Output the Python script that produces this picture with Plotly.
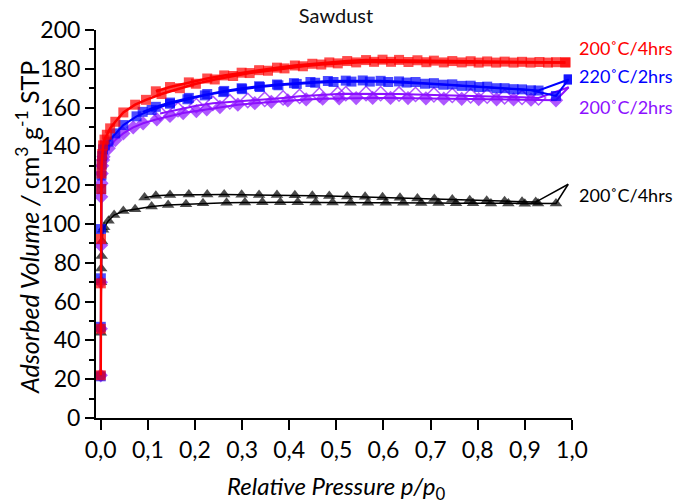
import plotly.graph_objects as go

# ---------------- data ----------------
# Black series (200 C / 4 hrs, triangles)
black_ads_p = [0.0002, 0.0005, 0.001, 0.002, 0.003, 0.005, 0.0074, 0.0165, 0.0285, 0.048, 0.073, 0.108, 0.143,
               0.181, 0.217, 0.267, 0.306, 0.343, 0.381, 0.418, 0.456, 0.492, 0.530, 0.567, 0.605, 0.642, 0.680,
               0.717, 0.754, 0.790, 0.828, 0.865, 0.900, 0.928, 0.966, 0.992]
black_ads_v = [44, 70, 77, 83.5, 91, 97, 98.3, 101.7, 104.6, 106.7, 107.6, 109.0, 109.8,
               110.2, 110.7, 111.0, 111.1, 111.2, 111.2, 111.2, 111.1, 111.1, 111.0, 111.0, 110.9, 110.9, 110.8,
               110.8, 110.7, 110.7, 110.6, 110.6, 110.5, 110.6, 110.6, 120.5]
black_des_p = [0.992, 0.923, 0.894, 0.857, 0.819, 0.783, 0.746, 0.708, 0.672, 0.635, 0.598, 0.561, 0.523,
               0.485, 0.449, 0.412, 0.374, 0.336, 0.299, 0.262, 0.226, 0.187, 0.147, 0.117, 0.093]
black_des_v = [120.5, 111.3, 111.5, 111.7, 112.0, 112.3, 112.6, 112.9, 113.2, 113.5, 113.8, 114.0, 114.2,
               114.4, 114.6, 114.8, 114.9, 115.0, 115.1, 115.2, 115.2, 115.2, 115.0, 114.6, 113.6]

# Purple series (200 C / 2 hrs, diamonds)
purple_ads_p = [0.00005, 0.0001, 0.0003, 0.0006, 0.001, 0.0015, 0.002, 0.003, 0.005, 0.006, 0.017, 0.031, 0.048,
                0.069, 0.090, 0.119, 0.147, 0.175, 0.203, 0.225, 0.253, 0.291, 0.327, 0.362, 0.397, 0.436, 0.471,
                0.506, 0.542, 0.577, 0.615, 0.652, 0.690, 0.728, 0.766, 0.802, 0.840, 0.876, 0.913, 0.966, 0.993]
purple_ads_v = [22, 46, 70, 89, 114, 121, 126, 130, 133, 134.7, 139.0, 143.3, 146.7,
                149.8, 151.9, 154.0, 155.7, 157.2, 158.2, 159.1, 160.3, 161.5, 162.3, 163.0, 163.7, 164.2, 164.6,
                164.8, 164.9, 165.0, 165.0, 164.9, 164.8, 164.6, 164.5, 164.4, 164.3, 164.2, 164.1, 163.8, 170.5]
purple_des_p = [0.993, 0.929, 0.894, 0.857, 0.820, 0.785, 0.746, 0.707, 0.668, 0.633, 0.594, 0.563, 0.520,
                0.503, 0.464, 0.422, 0.387, 0.348, 0.312, 0.274, 0.238, 0.203, 0.164, 0.126]
purple_des_v = [170.5, 165.0, 165.3, 165.6, 165.9, 166.1, 166.3, 166.6, 166.8, 167.0, 167.2, 167.3, 167.2,
                167.0, 166.5, 165.8, 165.0, 164.3, 163.7, 163.0, 162.2, 161.0, 159.0, 157.0]

# Blue series (220 C / 2 hrs, squares)
blue_ads_p = [0.00005, 0.0001, 0.0003, 0.0006, 0.001, 0.0015, 0.002, 0.003, 0.005, 0.009, 0.0165, 0.031, 0.048,
              0.076, 0.108, 0.147, 0.184, 0.221, 0.260, 0.300, 0.338, 0.377, 0.416, 0.455, 0.494, 0.532, 0.571,
              0.610, 0.649, 0.688, 0.727, 0.766, 0.803, 0.840, 0.876, 0.913, 0.966, 0.993]
blue_ads_v = [21.5, 47, 72, 97.4, 118, 125, 130.5, 135, 138.5, 140.5, 142.5, 146.7, 151.0,
              155.5, 158.8, 162.0, 164.3, 166.3, 168.0, 169.5, 170.6, 171.5, 172.2, 172.8, 173.2, 173.4, 173.4,
              173.2, 172.9, 172.3, 171.8, 171.2, 170.6, 170.0, 169.5, 168.9, 166.0, 174.5]
blue_des_p = [0.993, 0.929, 0.894, 0.857, 0.820, 0.785, 0.746, 0.707, 0.668, 0.633, 0.594, 0.556, 0.520,
              0.482, 0.445, 0.410, 0.374, 0.336, 0.299, 0.262, 0.226, 0.187, 0.147, 0.117, 0.089]
blue_des_v = [174.5, 168.8, 169.4, 170.0, 170.8, 171.3, 172.0, 172.6, 173.2, 173.5, 173.8, 174.0, 173.9,
              173.7, 173.2, 172.6, 171.9, 171.0, 170.0, 168.6, 167.0, 165.0, 162.6, 160.4, 157.8]

# Red series (200 C / 4 hrs, squares)
red_ads_p = [0.00005, 0.0001, 0.0003, 0.0006, 0.001, 0.0015, 0.002, 0.003, 0.005, 0.008, 0.013, 0.020, 0.031,
             0.048, 0.073, 0.096, 0.129, 0.168, 0.202, 0.242, 0.281, 0.316, 0.355, 0.390, 0.429, 0.468, 0.503,
             0.542, 0.580, 0.616, 0.653, 0.691, 0.728, 0.766, 0.802, 0.839, 0.876, 0.912, 0.949, 0.986]
red_ads_v = [22, 46, 69.4, 92.3, 118, 126, 131, 136, 140.5, 143.5, 146.0, 149.3, 152.7,
             157.5, 161.5, 164.0, 167.0, 170.0, 172.3, 174.5, 176.3, 177.8, 179.0, 180.2, 181.3, 182.2, 182.8,
             183.3, 183.6, 183.6, 183.5, 183.4, 183.3, 183.3, 183.2, 183.2, 183.2, 183.2, 183.2, 183.3]
red_des_p = [0.986, 0.966, 0.931, 0.894, 0.857, 0.820, 0.785, 0.746, 0.707, 0.672, 0.633, 0.598, 0.563,
             0.523, 0.485, 0.449, 0.412, 0.374, 0.336, 0.299, 0.262, 0.226, 0.187, 0.147, 0.117]
red_des_v = [183.3, 183.4, 183.5, 183.6, 183.7, 183.8, 183.9, 184.0, 184.2, 184.4, 184.6, 184.7, 184.5,
             184.0, 183.3, 182.6, 181.7, 180.6, 179.3, 178.0, 176.6, 175.0, 173.0, 170.6, 168.4]

labels = ["200˚C/4hrs", "220˚C/2hrs", "200˚C/2hrs", "200˚C/4hrs"]

x_ticks = [0.0, 0.1, 0.2, 0.3, 0.4, 0.5, 0.6, 0.7, 0.8, 0.9, 1.0]
y_ticks = [0, 20, 40, 60, 80, 100, 120, 140, 160, 180, 200]

# ---------------- figure ----------------
RED = "#FF0000"
BLUE = "#0000FF"
PURPLE = "#8C10FF"
BLACK = "#000000"

fig = go.Figure()

def add(p, v, color, symbol, size, lw, fill=True, hide_end=None):
    sizes = [size] * len(p)
    if hide_end == "first":
        sizes[0] = 0
    elif hide_end == "last":
        sizes[-1] = 0
    fig.add_trace(go.Scatter(
        x=p, y=v, mode="lines+markers",
        line=dict(color=color, width=lw),
        marker=dict(symbol=symbol if fill else symbol + "-open", size=sizes, color=color,
                    line=dict(color=color, width=1.5 if not fill else 0)),
        showlegend=False, hoverinfo="skip"))

add(black_ads_p, black_ads_v, BLACK, "triangle-up", 11, 1.5, hide_end="last")
add(black_des_p, black_des_v, BLACK, "triangle-up", 11, 1.5, hide_end="first")
add(purple_des_p, purple_des_v, PURPLE, "diamond", 11, 2, fill=False, hide_end="first")
add(purple_ads_p, purple_ads_v, PURPLE, "diamond", 11, 2, hide_end="last")
add(blue_des_p, blue_des_v, BLUE, "square", 10, 2)
add(blue_ads_p, blue_ads_v, BLUE, "square", 10, 2)
add(red_des_p, red_des_v, RED, "square", 10, 2.5)
add(red_ads_p, red_ads_v, RED, "square", 10, 2.5)

FONT = "Lato"
L, R, T, B = 96, 103, 30, 85
PW, PH = 675 - L - R, 503 - T - B

colors = [RED, BLUE, PURPLE, BLACK]
label_py = [48, 76, 107, 195]
for txt, c, py in zip(labels, colors, label_py):
    fig.add_annotation(text=txt, xref="paper", yref="paper",
                       x=(577 - L) / PW, y=(503 - B - py) / PH,
                       xanchor="left", yanchor="middle", showarrow=False,
                       font=dict(family=FONT, size=18, color=c))

# axis titles
fig.add_annotation(text="<i>Relative Pressure p/p</i><sub>0</sub>", xref="paper", yref="paper",
                   x=(336 - L) / PW, y=(503 - B - 487) / PH, xanchor="center", yanchor="middle",
                   showarrow=False, font=dict(family=FONT, size=24, color="black"))
fig.add_annotation(text="<i>Adsorbed Volume /</i> cm<sup>3</sup> g<sup>-1</sup> STP", xref="paper", yref="paper",
                   x=(27 - L) / PW, y=(503 - B - 228) / PH, xanchor="center", yanchor="middle",
                   textangle=-90, showarrow=False, font=dict(family=FONT, size=25, color="black"))

fig.update_layout(
    width=675, height=503,
    margin=dict(l=L, r=R, t=T, b=B),
    paper_bgcolor="white", plot_bgcolor="white",
    separators=",.",
    title=dict(text="Sawdust", x=336 / 675, xanchor="center", y=1 - 16 / 503, yanchor="middle",
               font=dict(family=FONT, size=20, color="#111111")),
    font=dict(family=FONT, color="black"),
)

fig.update_xaxes(
    range=[-0.01, 1.0], tickvals=x_ticks, tickformat=".1f",
    ticks="outside", ticklen=10, tickwidth=1.5, tickcolor="black",
    showline=True, linecolor="black", linewidth=2, showgrid=False, zeroline=False,
    tickfont=dict(family=FONT, size=23, color="black"),
)
fig.update_yaxes(
    range=[0, 200], tickvals=y_ticks,
    ticks="outside", ticklen=9, tickwidth=1.5, tickcolor="black",
    minor=dict(ticks="outside", ticklen=5, dtick=10, tickwidth=1.5, tickcolor="black"),
    showline=True, linecolor="black", linewidth=2, showgrid=False, zeroline=False,
    tickfont=dict(family=FONT, size=23, color="black"),
)

fig.write_html("out.html")
